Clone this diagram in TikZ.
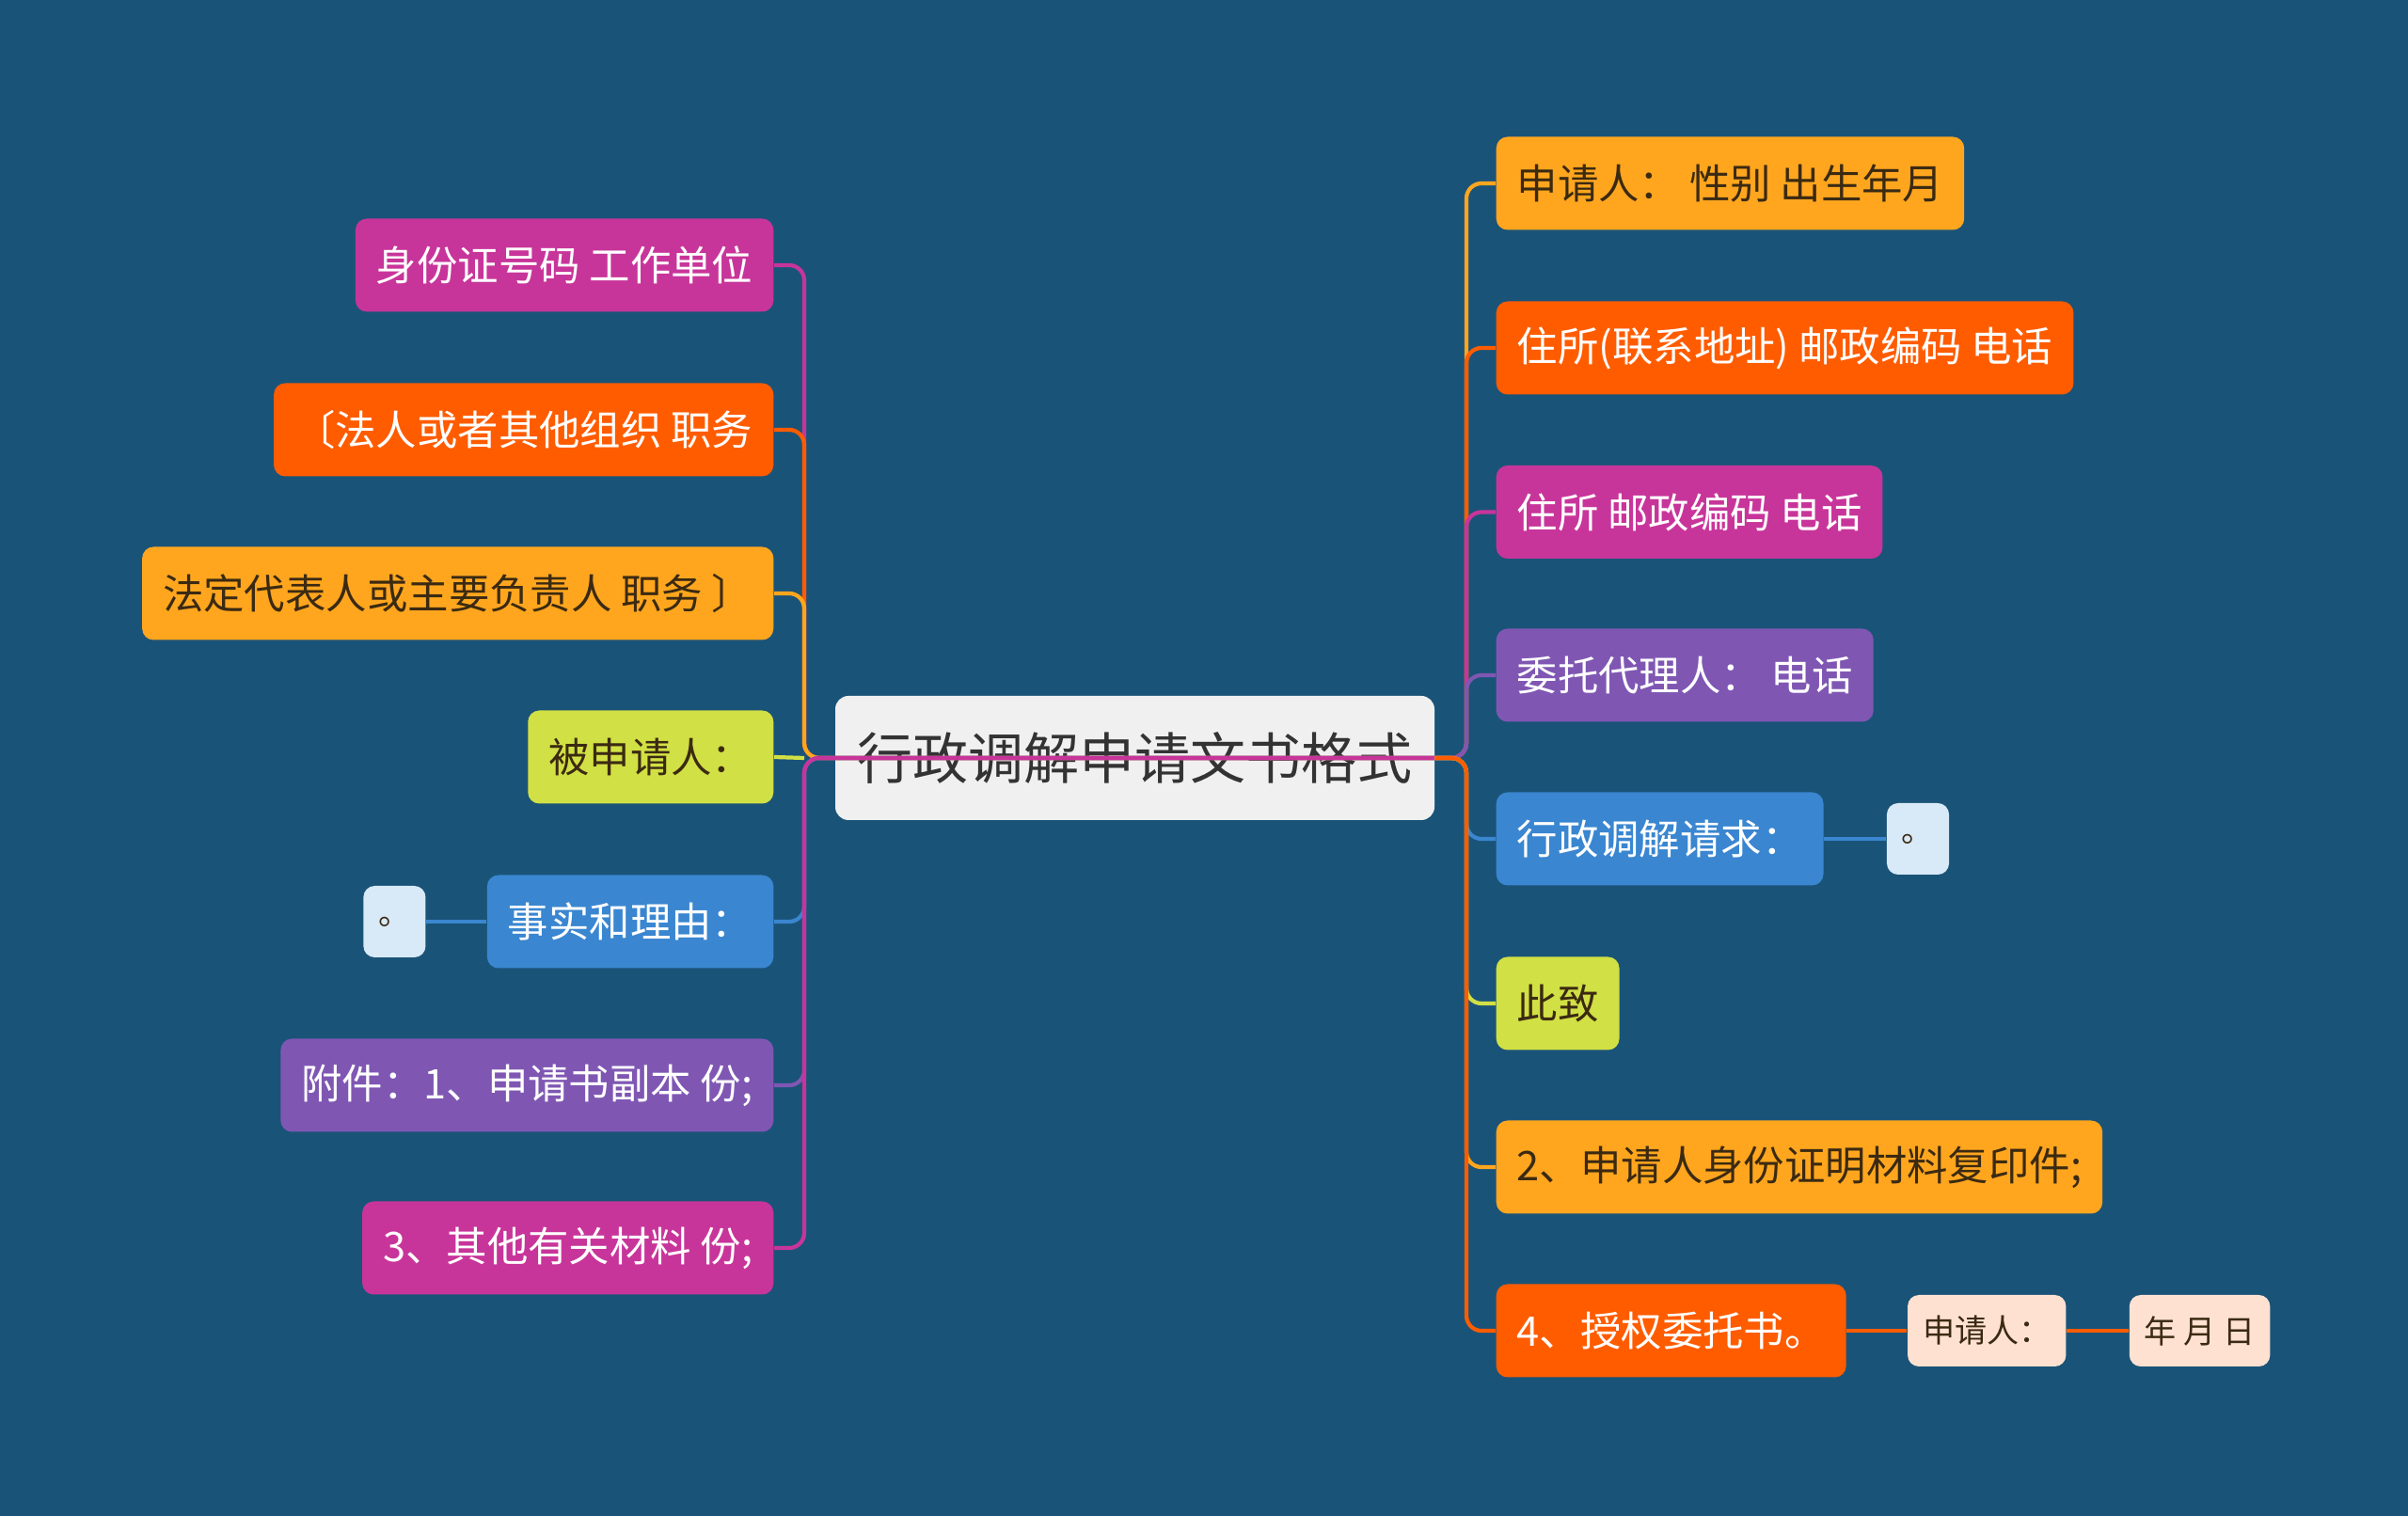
\documentclass[tikz,border=0pt]{standalone}
\usepackage{fontspec}
\setmainfont{Noto Sans CJK SC}
\usetikzlibrary{positioning}

\definecolor{bg}{HTML}{1A5378}
\definecolor{rose}{HTML}{C8359A}
\definecolor{tang}{HTML}{FF5C00}
\definecolor{amber}{HTML}{FFA61E}
\definecolor{lime}{HTML}{D1E044}
\definecolor{sky}{HTML}{3A86D0}
\definecolor{grape}{HTML}{7F57B3}
\definecolor{ice}{HTML}{D8E9F7}
\definecolor{peach}{HTML}{FFE1D2}
\definecolor{ink}{HTML}{3B2A12}
\definecolor{rootfill}{HTML}{F0F0F0}

\begin{document}
\begin{tikzpicture}[
  topic/.style={rounded corners=0.12cm, minimum height=0.99cm, inner xsep=0.22cm, fill=#1, font=\fontsize{12.35pt}{14pt}\selectfont},
  dark/.style={topic=#1, text=ink},
  light/.style={topic=#1, text=white},
  leaf/.style={rounded corners=0.12cm, minimum height=0.76cm, inner xsep=0.16cm, fill=#1, text=ink, font=\fontsize{9.7pt}{11pt}\selectfont},
  link/.style={draw=#1, line width=1.2pt, rounded corners=0.16cm}
]
\fill[bg] (0,0) rectangle (25.6,-16.12);

\node[fill=rootfill, text=black!80, rounded corners=0.14cm, minimum width=6.37cm, minimum height=1.32cm, font=\fontsize{16.8pt}{19pt}\selectfont] (root) at (12.065,-8.06) {行政调解申请文书格式};

% left side
\node[light=rose, anchor=east] (l1) at (8.23,-2.82) {身份证号码 工作单位};
\node[light=tang, anchor=east] (l2) at (8.23,-4.57) {〔法人或者其他组织 职务};
\node[dark=amber, anchor=east] (l3) at (8.23,-6.31) {法定代表人或主要负责人 职务 〕};
\node[dark=lime, anchor=east] (l4) at (8.23,-8.05) {被申请人：};
\node[light=sky, anchor=east] (l5) at (8.23,-9.80) {事实和理由：};
\node[light=grape, anchor=east] (l6) at (8.23,-11.54) {附件：1、申请书副本 份;};
\node[light=rose, anchor=east] (l7) at (8.23,-13.27) {3、其他有关材料 份;};
\node[leaf=ice, left=0.64cm of l5] (l5a) {。};

% right side
\node[dark=amber, anchor=west] (r1) at (15.90,-1.95) {申请人： 性别 出生年月};
\node[light=tang, anchor=west] (r2) at (15.90,-3.70) {住所(联系地址) 邮政编码 电话};
\node[light=rose, anchor=west] (r3) at (15.90,-5.445) {住所 邮政编码 电话};
\node[light=grape, anchor=west] (r4) at (15.90,-7.18) {委托代理人： 电话};
\node[light=sky, anchor=west] (r5) at (15.90,-8.92) {行政调解请求：};
\node[dark=lime, anchor=west] (r6) at (15.90,-10.67) {此致};
\node[dark=amber, anchor=west] (r7) at (15.90,-12.41) {2、申请人身份证明材料复印件;};
\node[light=tang, anchor=west] (r8) at (15.90,-14.15) {4、授权委托书。};
\node[leaf=ice, right=0.66cm of r5] (r5a) {。};
\node[leaf=peach, right=0.64cm of r8] (r8a) {申请人：};
\node[leaf=peach, right=0.66cm of r8a] (r8b) {年 月 日};

\coordinate (lt) at (8.55,-8.06);
\coordinate (rt) at (15.59,-8.06);

\draw[link=rose] (root.east) -- (lt) |- (l1.east);
\draw[link=tang] (root.east) -- (lt) |- (l2.east);
\draw[link=amber] (root.east) -- (lt) |- (l3.east);
\draw[link=lime] (lt) -- (l4.east);
\draw[link=sky] (root.east) -- (lt) |- (l5.east);
\draw[link=grape] (root.east) -- (lt) |- (l6.east);
\draw[link=rose] (root.east) -- (lt) |- (l7.east);
\draw[link=sky] (l5.west) -- (l5a.east);

\draw[link=amber] (root.east) -- (rt) |- (r1.west);
\draw[link=tang] (root.east) -- (rt) |- (r2.west);
\draw[link=rose] (root.east) -- (rt) |- (r3.west);
\draw[link=grape] (root.east) -- (rt) |- (r4.west);
\draw[link=sky] (root.east) -- (rt) |- (r5.west);
\draw[link=lime] (root.east) -- (rt) |- (r6.west);
\draw[link=amber] (root.east) -- (rt) |- (r7.west);
\draw[link=tang] (root.east) -- (rt) |- (r8.west);
\draw[link=sky] (r5.east) -- (r5a.west);
\draw[link=tang] (r8.east) -- (r8a.west);
\draw[link=tang] (r8a.east) -- (r8b.west);
\end{tikzpicture}
\end{document}
